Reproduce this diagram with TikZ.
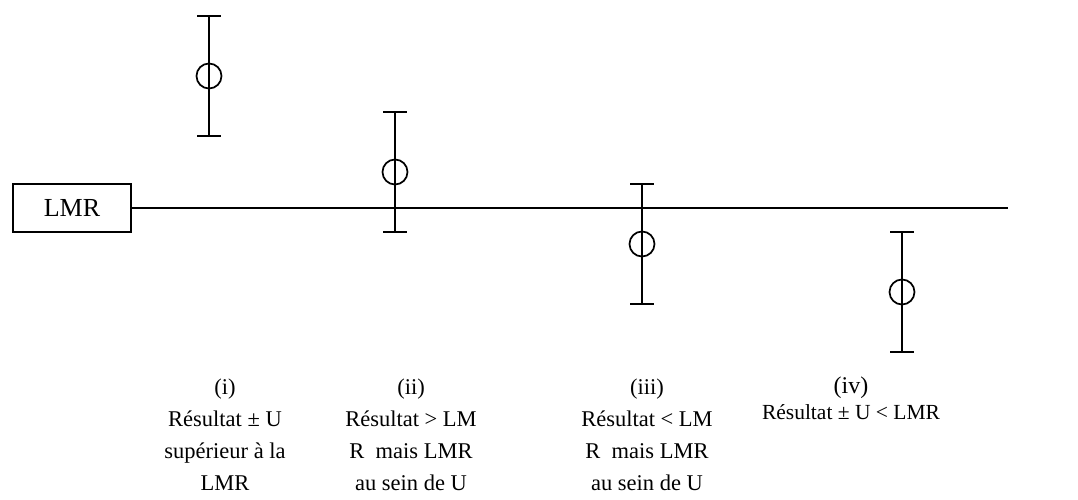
\documentclass[tikz,border=0pt]{standalone}
\usepackage{fontspec}
\setmainfont{Liberation Serif}
\begin{document}
\begin{tikzpicture}[x=1pt,y=-1pt,
  bar/.style={line width=1.7pt},
  lbl/.style={align=center,anchor=north,inner sep=0pt,font=\fontsize{22.5}{32}\selectfont},
  pt/.style={circle,draw,line width=1.7pt,minimum size=25pt,inner sep=0pt}]
\useasboundingbox (0,0) rectangle (1078,500);
\node[draw,line width=1.7pt,minimum width=118pt,minimum height=48pt,inner sep=0pt,font=\fontsize{26}{30}\selectfont] (lmr) at (72,208) {LMR};
\coordinate (end) at (1008,208);
\draw[line width=1.7pt] (lmr.east) -- (end);
% error bars
\foreach \n/\x/\t/\c/\b in {a/209/16/76/136, b/395/112/172/232, c/642/184/244/304, d/902/232/292/352}{
  \coordinate (\n t) at (\x,\t);
  \coordinate (\n b) at (\x,\b);
  \node[pt] (\n c) at (\x,\c) {};
  \draw[bar] (\n t) -- (\n b);
  \draw[bar] ([xshift=-12pt]\n t) -- ([xshift=12pt]\n t);
  \draw[bar] ([xshift=-12pt]\n b) -- ([xshift=12pt]\n b);
}
\node[lbl] (l1) at (225,378.5) {(i)\\Résultat ± U\\supérieur à la\\LMR};
\node[lbl] (l2) at (411,378.5) {(ii)\\Résultat > LM\\R\ \ mais LMR\\au sein de U};
\node[lbl] (l3) at (647,378.5) {(iii)\\Résultat < LM\\R\ \ mais LMR\\au sein de U};
\node[lbl,font=\fontsize{21.5}{26}\selectfont] (l4) at (851,377) {{\fontsize{24}{26}\selectfont (iv)}\\Résultat ± U < LMR};
\end{tikzpicture}
\end{document}
